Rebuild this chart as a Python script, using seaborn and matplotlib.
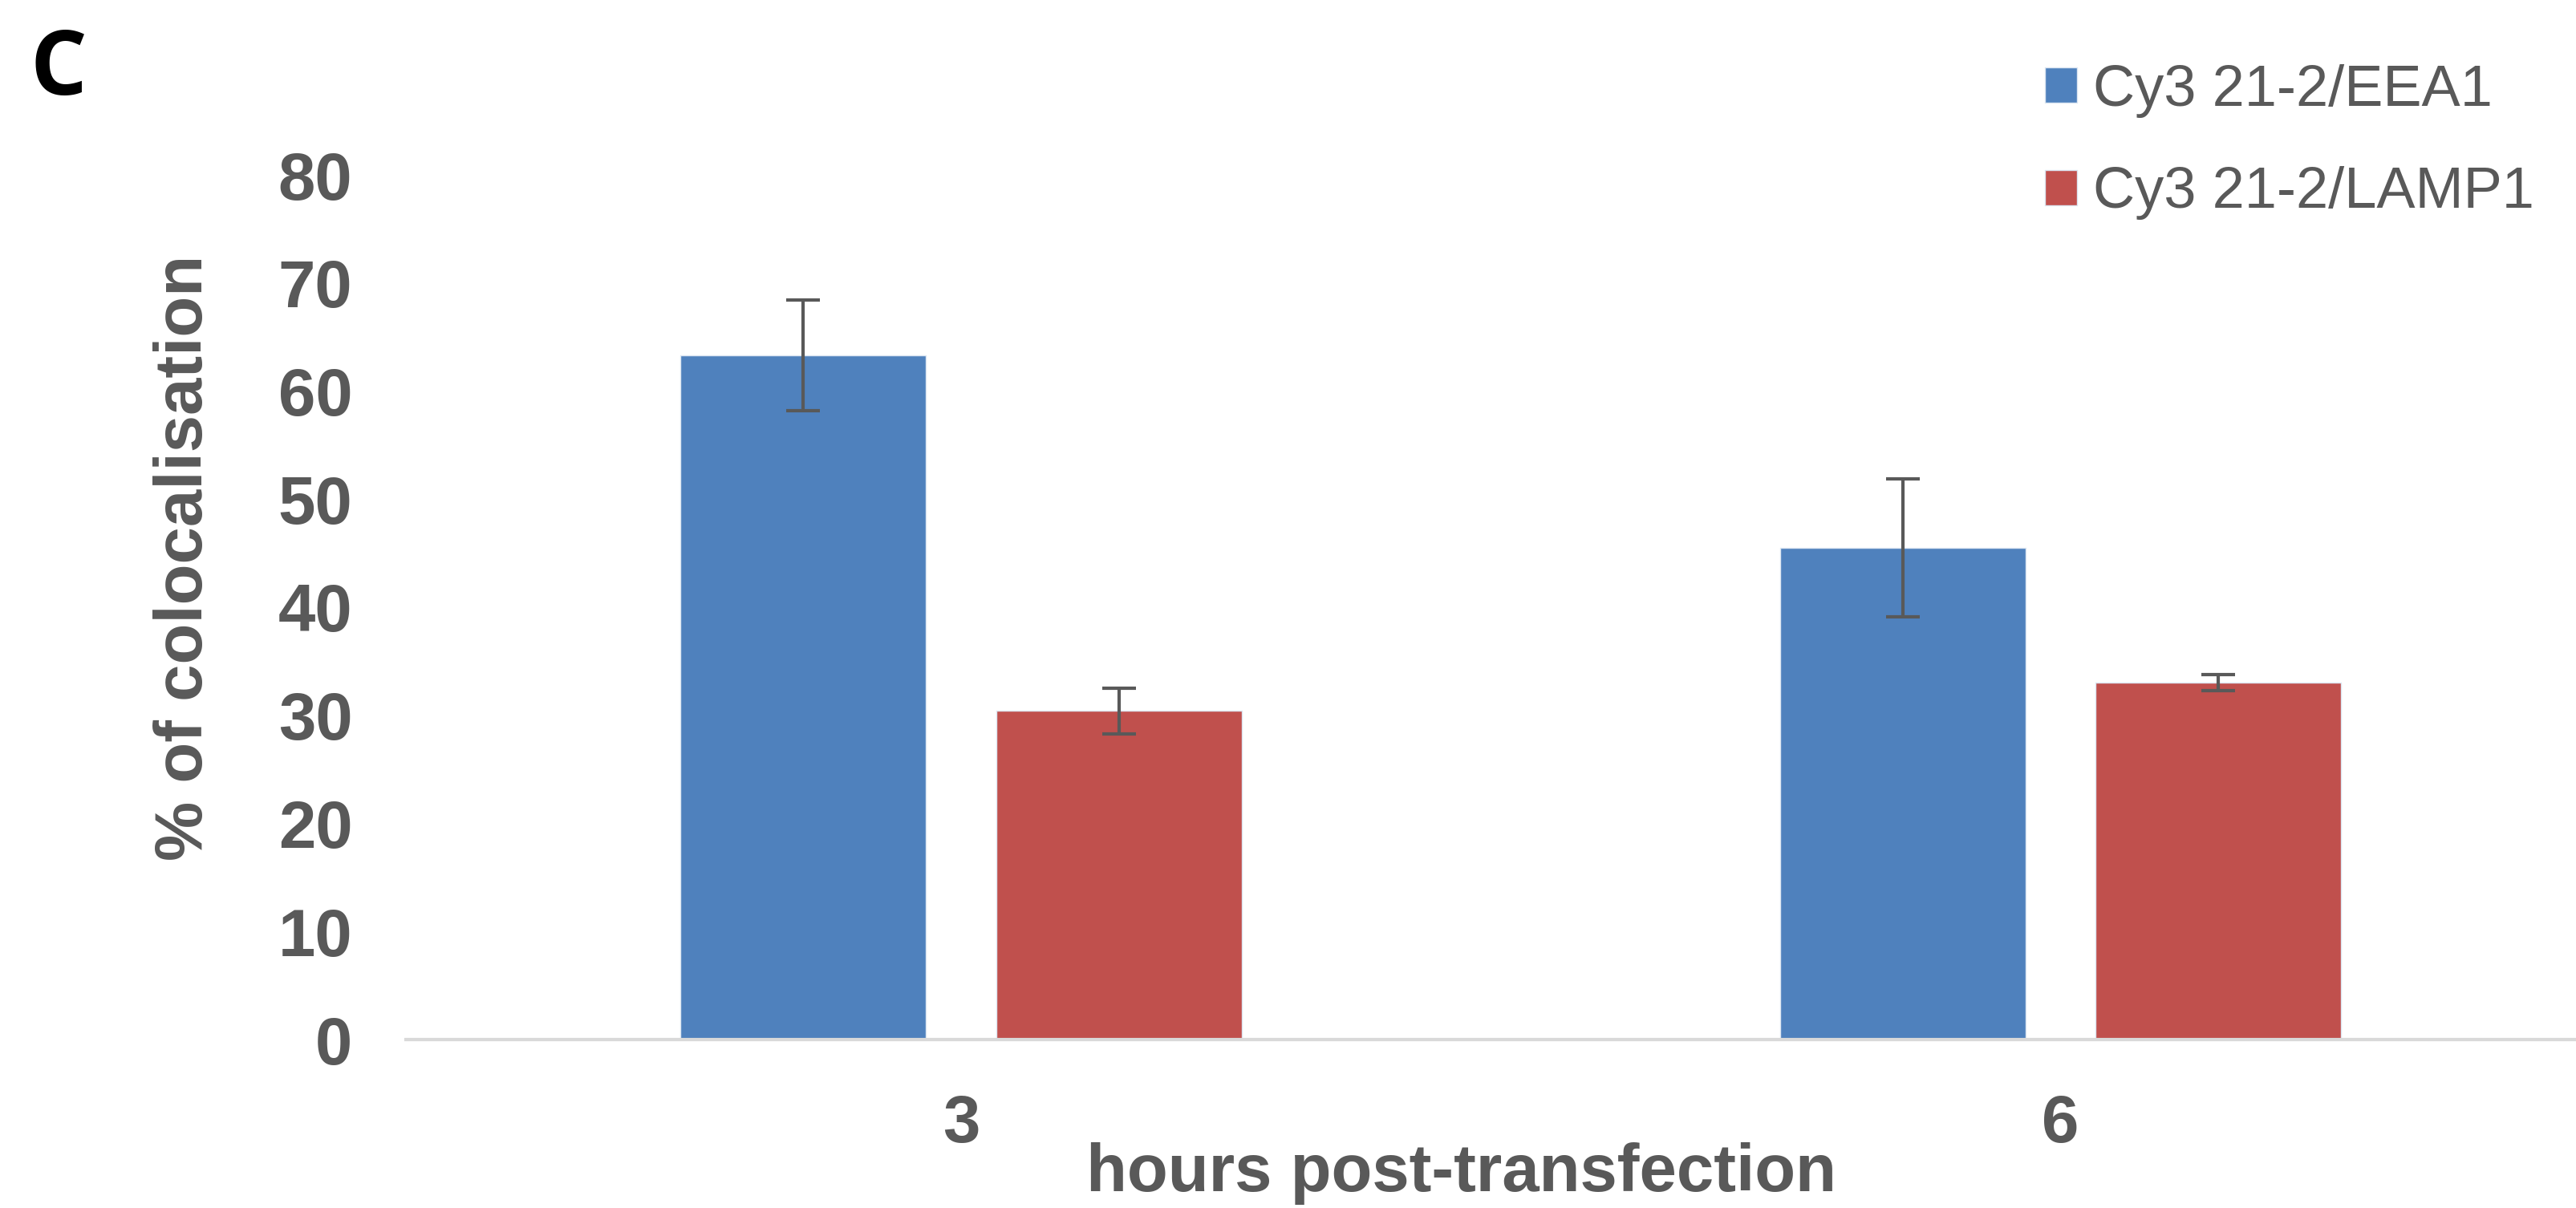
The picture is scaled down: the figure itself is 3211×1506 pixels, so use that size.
import matplotlib
matplotlib.use('Agg')

import numpy as np
import pandas as pd
import matplotlib.pyplot as plt
import seaborn as sns

# values
hours = ['3', '6']
series = ['Cy3 21-2/EEA1', 'Cy3 21-2/LAMP1']
eea1_mean = [63.3, 45.5]
eea1_sd = [5.1, 6.4]
lamp1_mean = [30.4, 33.0]
lamp1_sd = [2.1, 0.75]
yticks = [0, 10, 20, 30, 40, 50, 60, 70, 80]

colors = ['#4F81BD', '#C0504D']
grey = '#595959'

df = pd.DataFrame({
    'hours': hours * 2,
    'series': [series[0]] * 2 + [series[1]] * 2,
    'mean': eea1_mean + lamp1_mean,
    'sd': eea1_sd + lamp1_sd,
})

sns.set_style('white')
plt.rcParams['font.family'] = ['Liberation Sans', 'DejaVu Sans']

fig = plt.figure(figsize=(16.055, 7.53), dpi=200)
ax = fig.add_axes([506 / 3211, 1 - 1296 / 1506, 1 - 506 / 3211, (1296 - 218) / 1506])

sns.barplot(data=df, x='hours', y='mean', hue='series', hue_order=series,
            palette=colors, saturation=1, width=0.574, gap=0.222, errorbar=None,
            edgecolor='#dce6f2', linewidth=0.5, ax=ax)

bar_conts = list(ax.containers)
handles = [cont.patches[0] for cont in bar_conts]

# error bars at the bar centres
for cont, s in zip(bar_conts, series):
    sub = df[df['series'] == s]
    xs = [p.get_x() + p.get_width() / 2 for p in cont.patches]
    ax.errorbar(xs, sub['mean'].values, yerr=sub['sd'].values, fmt='none',
                ecolor=grey, elinewidth=1.5, capsize=7.5, capthick=1.5, zorder=5)

ax.set_ylim(0, 80)
ax.set_xlim(-0.505, 1.469)
ax.set_yticks(yticks)
ax.set_yticklabels([str(t) for t in yticks])
ax.set_xlabel('')
ax.set_ylabel('')
ax.tick_params(axis='both', length=0, pad=24, labelsize=30, labelcolor=grey)
for lab in ax.get_xticklabels() + ax.get_yticklabels():
    lab.set_fontweight('bold')

for side in ['top', 'right', 'left']:
    ax.spines[side].set_visible(False)
ax.spines['bottom'].set_color('#d9d9d9')
ax.spines['bottom'].set_linewidth(1.5)

ax.get_legend().remove()
fig.legend(handles, series, loc='upper left', bbox_to_anchor=(2549 / 3211, 0.947),
           frameon=False, fontsize=26, labelcolor=grey, handlelength=0.56,
           handleheight=0.56, handletextpad=0.27, labelspacing=0.84,
           borderpad=0, borderaxespad=0)

fig.text(230 / 3211, 1 - 695 / 1506, '% of colocalisation', rotation=90,
         ha='center', va='center', fontsize=30, fontweight='bold', color=grey)
fig.text(1822 / 3211, 1 - 1485 / 1506, 'hours post-transfection',
         ha='center', va='baseline', fontsize=30, fontweight='bold', color=grey)
fig.text(37 / 3211, 1 - 118 / 1506, 'C', ha='left', va='baseline',
         fontsize=40, fontweight='bold', color='black', family=['Open Sans', 'DejaVu Sans'])

fig.savefig('out.png', dpi=200)
